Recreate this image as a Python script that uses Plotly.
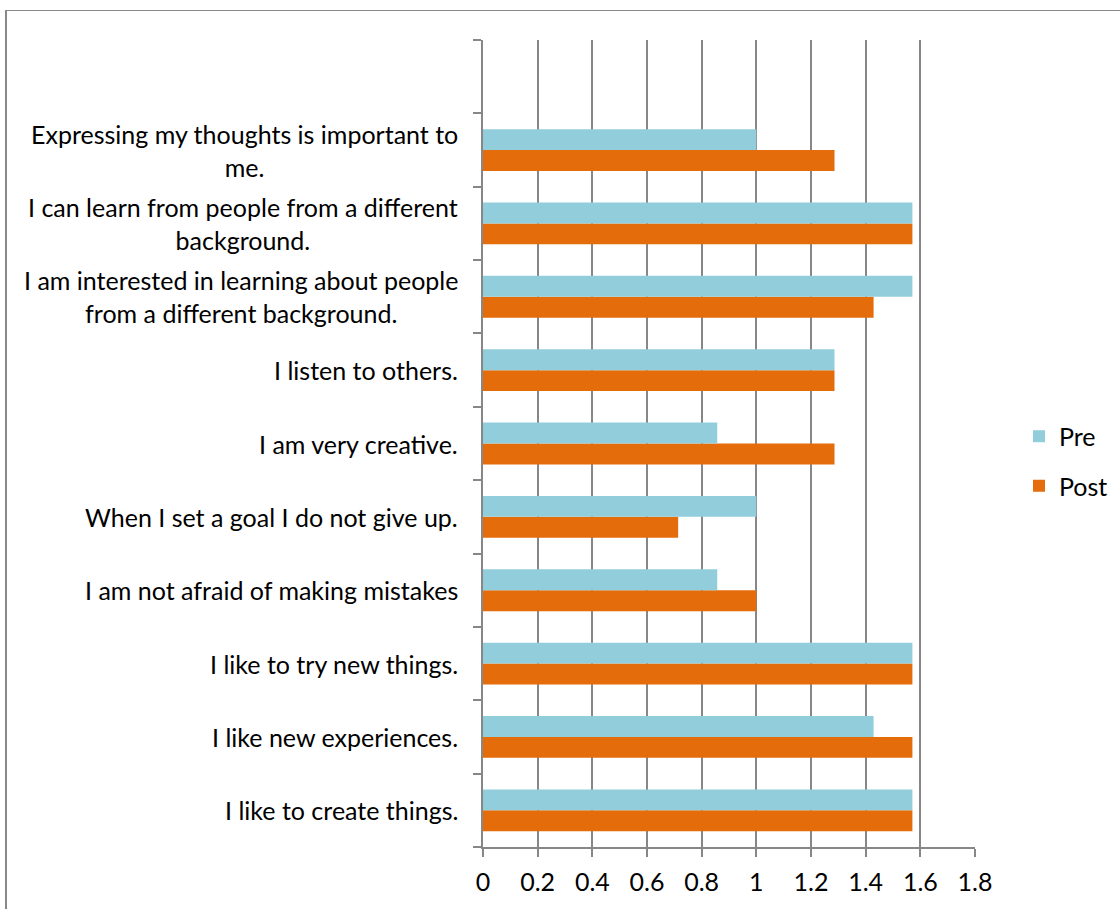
import plotly.graph_objects as go

categories = [
    "I like to create things.",
    "I like new experiences.",
    "I like to try new things.",
    "I am not afraid of making mistakes",
    "When I set a goal I do not give up.",
    "I am very creative.",
    "I listen to others.",
    "I am interested in learning about people<br>from a different background.",
    "I can learn from people from a different<br>background.",
    "Expressing my thoughts is important to<br>me.",
    " ",
]
pre = [1.571, 1.429, 1.571, 0.857, 1.0, 0.857, 1.286, 1.571, 1.571, 1.0, None]
post = [1.571, 1.571, 1.571, 1.0, 0.714, 1.286, 1.286, 1.429, 1.571, 1.286, None]
x_tickvals = [0, 0.2, 0.4, 0.6, 0.8, 1.0, 1.2, 1.4, 1.6, 1.8]
x_ticktext = ["0", "0.2", "0.4", "0.6", "0.8", "1", "1.2", "1.4", "1.6", "1.8"]

PRE_COLOR = "#92CDDC"
POST_COLOR = "#E46C0A"
GRID = "#878787"
FONT = "Lato"
FS = 25

W, H = 1120, 909
L, R, T, B = 483, 145, 40, 62
pw = W - L - R
ph = H - T - B

fig = go.Figure()
fig.add_trace(go.Bar(y=categories, x=post, name="Post", orientation="h",
                     marker=dict(color=POST_COLOR, line=dict(width=0)),
                     legendgroup="b", legendrank=2))
fig.add_trace(go.Bar(y=categories, x=pre, name="Pre", orientation="h",
                     marker=dict(color=PRE_COLOR, line=dict(width=0)),
                     legendgroup="a", legendrank=1))

annotations = []
for c in categories:
    if c.strip():
        annotations.append(dict(
            x=0, xref="paper", y=c, yref="y", text=c, showarrow=False,
            xanchor="right", yanchor="middle", align="center", xshift=-23,
            font=dict(family=FONT, size=FS, color="#000000")))

def px_x(p):
    return (p - L) / pw

def px_y(p):
    return (H - B - p) / ph

shapes = [
    dict(type="line", xref="paper", yref="paper", x0=px_x(5), x1=px_x(1125),
         y0=px_y(10.5), y1=px_y(10.5), line=dict(color="#888888", width=1.2)),
    dict(type="line", xref="paper", yref="paper", x0=px_x(6), x1=px_x(6),
         y0=px_y(10), y1=px_y(915), line=dict(color="#888888", width=2)),
]

fig.update_layout(
    width=W, height=H,
    margin=dict(l=L, r=R, t=T, b=B, pad=0, autoexpand=False),
    paper_bgcolor="white", plot_bgcolor="white",
    barmode="group", bargap=0.43, bargroupgap=0,
    font=dict(family=FONT, size=FS, color="#000000"),
    annotations=annotations, shapes=shapes,
    legend=dict(x=px_x(1019), xanchor="left", y=px_y(461), yanchor="middle",
                font=dict(family=FONT, size=FS), tracegroupgap=14,
                bgcolor="rgba(0,0,0,0)"),
    xaxis=dict(range=[0, 1.8], tickvals=x_tickvals, ticktext=x_ticktext,
               showgrid=True, gridcolor=GRID, gridwidth=1.5,
               showline=True, linecolor=GRID, linewidth=1.5,
               ticks="outside", ticklen=8, tickcolor=GRID, tickwidth=1.5,
               zeroline=False, tickfont=dict(family=FONT, size=FS),
               ticklabelstandoff=4, fixedrange=True),
    yaxis=dict(categoryorder="array", categoryarray=categories, type="category",
               showticklabels=False, showgrid=False,
               showline=True, linecolor=GRID, linewidth=1.5,
               ticks="outside", ticklen=8, tickcolor=GRID, tickwidth=1.5,
               tickson="boundaries", fixedrange=True),
)

fig.write_html("out.html")
